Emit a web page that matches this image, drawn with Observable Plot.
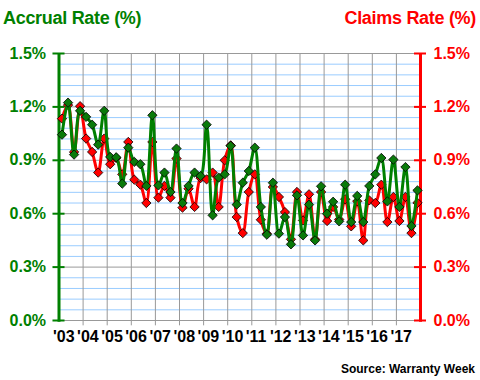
<!DOCTYPE html>
<html><head><meta charset="utf-8">
<script src="https://cdn.jsdelivr.net/npm/d3@7"></script>
<script src="https://cdn.jsdelivr.net/npm/@observablehq/plot@0.6"></script>
<style>
body{margin:0;background:#fff;}
#wrap{position:relative;width:480px;height:380px;font-family:"Liberation Sans",Arial,sans-serif;font-weight:bold;overflow:hidden;}
#wrap svg{position:absolute;left:0;top:0;}
.ttl{position:absolute;top:8px;font-size:18px;letter-spacing:-0.3px;white-space:nowrap;}
#tl{left:3px;color:#008000;}
#tr{right:4px;color:#ff0000;}
#src{position:absolute;right:5px;top:362px;font-size:12px;color:#000;white-space:nowrap;}
</style></head><body>
<div id="wrap">
<div id="chart"></div>
<div class="ttl" id="tl">Accrual Rate (%)</div>
<div class="ttl" id="tr">Claims Rate (%)</div>
<div id="src">Source: Warranty Week</div>
</div>
<script>
const years = [2003,2004,2005,2006,2007,2008,2009,2010,2011,2012,2013,2014,2015,2016,2017];
const yearLabels = ["'03","'04","'05","'06","'07","'08","'09","'10","'11","'12","'13","'14","'15","'16","'17"];
// quarterly rates (%), 2003Q1 .. 2017Q4
const accrual = [
  1.044,1.224,0.932,1.178,
  1.144,1.100,0.988,1.178,
  0.919,0.917,0.769,0.971,
  0.891,0.878,0.756,1.153,
  0.759,0.831,0.722,0.966,
  0.660,0.756,0.831,0.812,
  1.100,0.591,0.803,0.821,
  0.981,0.651,0.774,0.840,
  0.971,0.638,0.482,0.774,
  0.488,0.581,0.428,0.703,
  0.478,0.651,0.450,0.754,
  0.600,0.667,0.557,0.763,
  0.553,0.700,0.553,0.756,
  0.821,0.913,0.669,0.904,
  0.638,0.862,0.531,0.731
];
const claims = [
  1.134,1.210,0.947,1.204,
  1.022,0.947,0.831,1.022,
  0.878,0.913,0.821,1.003,
  0.791,0.763,0.660,1.003,
  0.690,0.756,0.690,0.910,
  0.634,0.740,0.638,0.800,
  0.793,0.831,0.638,0.900,
  0.984,0.581,0.491,0.722,
  0.821,0.566,0.488,0.750,
  0.694,0.609,0.456,0.722,
  0.562,0.709,0.456,0.722,
  0.559,0.638,0.568,0.681,
  0.529,0.670,0.450,0.675,
  0.660,0.763,0.553,0.694,
  0.559,0.694,0.491,0.661
];
const yTicks = [0,0.3,0.6,0.9,1.2,1.5];
const yMinor = d3.range(0, 1.5001, 0.06).filter(v => !yTicks.some(t => Math.abs(t - v) < 1e-6));

const GREEN = "#008000", RED = "#ff0000";
const firstYear = years[0], endYear = years[years.length-1] + 1;
const toRows = arr => arr.map((v,i) => ({t: firstYear + Math.floor(i/4) + ((i%4)+0.5)/4, v}));
const accRows = toRows(accrual), clmRows = toRows(claims);
const font = "'Liberation Sans', Arial, sans-serif";

const chart = Plot.plot({
  width: 480, height: 380,
  marginLeft: 58.5, marginRight: 60, marginTop: 53, marginBottom: 60,
  style: {fontFamily: font, background: "transparent"},
  x: {domain: [firstYear, endYear], label: null},
  y: {domain: [0, 1.5], label: null},
  marks: [
    Plot.ruleY(yMinor, {stroke: "#99ccff", strokeWidth: 1}),
    Plot.ruleY(yTicks, {stroke: "#999999", strokeWidth: 1}),
    Plot.ruleX(years.slice(1), {y1: -0.03, y2: 1.5, stroke: "#999999", strokeWidth: 1}),
    Plot.ruleX([firstYear], {y1: -0.01, y2: 1.5, stroke: GREEN, strokeWidth: 3}),
    Plot.ruleX([endYear], {y1: -0.01, y2: 1.5, stroke: RED, strokeWidth: 3}),
    Plot.ruleY(yTicks, {x1: firstYear - 0.25, x2: firstYear + 0.25, stroke: GREEN, strokeWidth: 2}),
    Plot.ruleY(yTicks, {x1: endYear - 0.25, x2: endYear + 0.25, stroke: RED, strokeWidth: 2}),
    Plot.line(clmRows, {x: "t", y: "v", stroke: RED, strokeWidth: 3, curve: "catmull-rom"}),
    Plot.dot(clmRows, {x: "t", y: "v", symbol: "diamond2", r: 4.2, fill: RED, stroke: "#000", strokeWidth: 0.8}),
    Plot.line(accRows, {x: "t", y: "v", stroke: GREEN, strokeWidth: 3, curve: "catmull-rom"}),
    Plot.dot(accRows, {x: "t", y: "v", symbol: "diamond2", r: 4.2, fill: "#0a7a0a", stroke: "#000", strokeWidth: 0.8}),
    Plot.axisY(yTicks, {anchor: "left", label: null, tickSize: 0, tickPadding: 13, fill: GREEN, fontSize: 16, fontWeight: "bold", fontFamily: font, tickFormat: d => d.toFixed(1) + "%"}),
    Plot.axisY(yTicks, {anchor: "right", label: null, tickSize: 0, tickPadding: 13, fill: RED, fontSize: 16, fontWeight: "bold", fontFamily: font, tickFormat: d => d.toFixed(1) + "%"}),
    Plot.axisX(years, {anchor: "bottom", label: null, tickSize: 0, tickPadding: 10, textAnchor: "start", dx: -6, fill: "#000", fontSize: 16, fontWeight: "bold", fontFamily: font, tickFormat: (d, i) => yearLabels[i]})
  ]
});
document.getElementById("chart").appendChild(chart);
</script>
</body></html>
